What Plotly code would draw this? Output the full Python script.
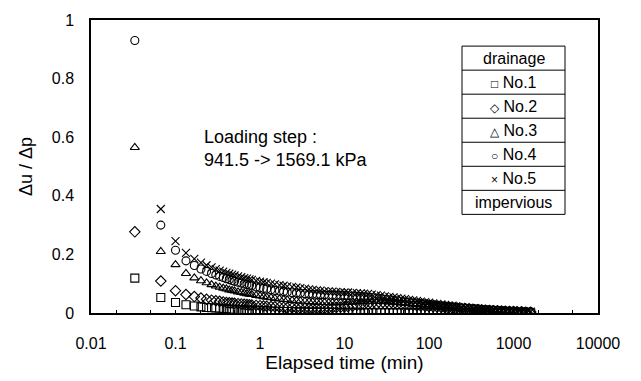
import plotly.graph_objects as go

# ---------------- data ----------------
time_min = [
    0.033, 0.067, 0.1, 0.133, 0.167, 0.2, 0.233, 0.267, 0.3, 0.333,
    0.367, 0.4, 0.433, 0.467, 0.5, 0.55, 0.6, 0.65, 0.7, 0.75,
    0.8, 0.9, 1.0, 1.1, 1.2, 1.35, 1.5, 1.7, 1.9, 2.1,
    2.4, 2.7, 3.0, 3.4, 3.8, 4.2, 4.7, 5.2, 5.8, 6.5,
    7.2, 8, 9, 10, 11, 12.5, 14, 15.5, 17, 19,
    21, 24, 27, 30, 34, 38, 42, 47, 52, 58,
    65, 72, 80, 90, 100, 112, 125, 140, 155, 170,
    190, 210, 240, 270, 300, 340, 380, 420, 470, 520,
    580, 650, 720, 800, 900, 1000, 1100, 1250, 1400, 1600,
]

no1 = [
    0.119, 0.053, 0.036, 0.028, 0.024, 0.021, 0.019, 0.018, 0.017, 0.016,
    0.015, 0.014, 0.013, 0.013, 0.012, 0.012, 0.011, 0.011, 0.010, 0.010,
    0.009, 0.009, 0.008, 0.008, 0.007, 0.007, 0.006, 0.006, 0.005, 0.005,
    0.005, 0.004, 0.004, 0.004, 0.003, 0.003, 0.003, 0.003, 0.002, 0.002,
    0.002, 0.002, 0.002, 0.002, 0.002, 0.002, 0.001, 0.001, 0.001, 0.001,
    0.001, 0.001, 0.001, 0.001, 0.001, 0.001, 0.001, 0.001, 0.001, 0.001,
    0.001, 0.001, 0.001, 0.001, 0.001, 0.001, 0.001, 0.001, 0.001, 0.001,
    0.001, 0.001, 0.001, 0.001, 0.001, 0.000, 0.000, 0.000, 0.000, 0.000,
    0.000, 0.000, 0.000, 0.000, 0.000, 0.000, 0.000, 0.000, 0.000, 0.000,
]
no2 = [
    0.277, 0.109, 0.076, 0.063, 0.056, 0.051, 0.047, 0.044, 0.042, 0.040,
    0.038, 0.036, 0.035, 0.034, 0.033, 0.032, 0.031, 0.030, 0.029, 0.028,
    0.027, 0.026, 0.025, 0.024, 0.023, 0.022, 0.021, 0.020, 0.019, 0.018,
    0.018, 0.017, 0.017, 0.016, 0.016, 0.016, 0.016, 0.016, 0.016, 0.017,
    0.018, 0.019, 0.020, 0.021, 0.022, 0.024, 0.026, 0.027, 0.028, 0.029,
    0.030, 0.030, 0.030, 0.030, 0.029, 0.029, 0.028, 0.028, 0.027, 0.026,
    0.026, 0.025, 0.024, 0.023, 0.022, 0.021, 0.020, 0.019, 0.018, 0.017,
    0.016, 0.015, 0.014, 0.013, 0.012, 0.011, 0.010, 0.009, 0.009, 0.008,
    0.007, 0.007, 0.006, 0.006, 0.005, 0.005, 0.004, 0.004, 0.003, 0.003,
]
no3 = [
    0.565, 0.210, 0.165, 0.135, 0.120, 0.110, 0.103, 0.097, 0.092, 0.088,
    0.085, 0.082, 0.079, 0.077, 0.075, 0.072, 0.070, 0.068, 0.066, 0.064,
    0.063, 0.060, 0.058, 0.056, 0.054, 0.052, 0.050, 0.048, 0.046, 0.045,
    0.043, 0.042, 0.041, 0.040, 0.039, 0.038, 0.037, 0.036, 0.036, 0.035,
    0.035, 0.035, 0.035, 0.035, 0.036, 0.037, 0.038, 0.039, 0.040, 0.040,
    0.040, 0.040, 0.039, 0.039, 0.038, 0.037, 0.036, 0.035, 0.034, 0.033,
    0.032, 0.031, 0.030, 0.029, 0.028, 0.027, 0.025, 0.024, 0.023, 0.022,
    0.021, 0.019, 0.018, 0.017, 0.016, 0.014, 0.013, 0.012, 0.011, 0.010,
    0.009, 0.009, 0.008, 0.007, 0.007, 0.006, 0.005, 0.005, 0.004, 0.004,
]
no4 = [
    0.930, 0.300, 0.214, 0.178, 0.162, 0.150, 0.142, 0.135, 0.130, 0.125,
    0.121, 0.117, 0.114, 0.111, 0.108, 0.105, 0.102, 0.099, 0.097, 0.095,
    0.093, 0.089, 0.086, 0.084, 0.082, 0.079, 0.077, 0.075, 0.073, 0.071,
    0.069, 0.068, 0.067, 0.066, 0.065, 0.064, 0.063, 0.062, 0.062, 0.061,
    0.061, 0.060, 0.060, 0.060, 0.059, 0.058, 0.057, 0.056, 0.055, 0.054,
    0.053, 0.051, 0.049, 0.047, 0.045, 0.043, 0.042, 0.040, 0.038, 0.037,
    0.035, 0.034, 0.032, 0.031, 0.029, 0.028, 0.026, 0.025, 0.024, 0.022,
    0.021, 0.020, 0.018, 0.017, 0.016, 0.015, 0.014, 0.013, 0.012, 0.011,
    0.010, 0.009, 0.009, 0.008, 0.007, 0.007, 0.006, 0.005, 0.005, 0.004,
]
no5 = [
    None, 0.355, 0.245, 0.205, 0.185, 0.172, 0.163, 0.156, 0.150, 0.145,
    0.141, 0.137, 0.134, 0.131, 0.128, 0.125, 0.122, 0.119, 0.117, 0.115,
    0.113, 0.110, 0.107, 0.105, 0.103, 0.100, 0.098, 0.095, 0.093, 0.091,
    0.089, 0.087, 0.085, 0.083, 0.081, 0.079, 0.077, 0.076, 0.075, 0.074,
    0.073, 0.072, 0.071, 0.070, 0.070, 0.069, 0.068, 0.067, 0.066, 0.065,
    0.063, 0.061, 0.059, 0.057, 0.055, 0.053, 0.051, 0.049, 0.047, 0.045,
    0.043, 0.041, 0.039, 0.037, 0.035, 0.033, 0.031, 0.029, 0.028, 0.026,
    0.025, 0.023, 0.021, 0.020, 0.018, 0.017, 0.016, 0.015, 0.014, 0.013,
    0.012, 0.011, 0.010, 0.009, 0.008, 0.008, 0.007, 0.006, 0.006, 0.005,
]

series_names = ["No.1", "No.2", "No.3", "No.4", "No.5"]
series_values = [no1, no2, no3, no4, no5]
series_symbols = ["square-open", "diamond-open", "triangle-up-open", "circle-open", "x-thin-open"]
legend_glyphs = ["\u25a1", "\u25c7", "\u25b3", "\u25cb", "\u00d7"]

x_tick_vals = [0.01, 0.1, 1, 10, 100, 1000, 10000]
x_tick_text = ["0.01", "0.1", "1", "10", "100", "1000", "10000"]
y_tick_vals = [0, 0.2, 0.4, 0.6, 0.8, 1.0]
y_tick_text = ["0", "0.2", "0.4", "0.6", "0.8", "1"]

annotation_lines = ["Loading step :", "941.5 -> 1569.1 kPa"]
legend_header = "drainage"
legend_footer = "impervious"

# ---------------- layout geometry (pixels) ----------------
W, H = 641, 381
L, R, T, B = 91, 43, 16, 62
PW, PH = W - L - R, H - T - B


def px(xp):
    return (xp - L) / PW


def py(yp):
    return (H - B - yp) / PH


FONT = "Liberation Sans, Arial, sans-serif"

fig = go.Figure()
for name, vals, sym in zip(series_names, series_values, series_symbols):
    fig.add_trace(go.Scatter(
        x=time_min, y=vals, mode="markers", name=name,
        marker=dict(symbol=sym, size=8, color="black",
                    line=dict(color="black", width=1.1)),
        showlegend=False,
    ))

# legend table
rows = [legend_header] + [
    f"<span style='font-size:12px'>{g}</span> {n}" for g, n in zip(legend_glyphs, series_names)
] + [legend_footer]
tx0, tx1, ty0, ty1 = 462, 565, 43, 217
rh = (ty1 - ty0) / len(rows)
shapes = [dict(type="rect", xref="paper", yref="paper",
               x0=px(tx0), x1=px(tx1), y0=py(ty1), y1=py(ty0),
               line=dict(color="black", width=1), fillcolor="white", layer="above")]
annotations = []
for i, txt in enumerate(rows):
    if i > 0:
        yl = ty0 + i * rh
        shapes.append(dict(type="line", xref="paper", yref="paper",
                           x0=px(tx0), x1=px(tx1), y0=py(yl), y1=py(yl),
                           line=dict(color="black", width=1), layer="above"))
    annotations.append(dict(xref="paper", yref="paper",
                            x=px((tx0 + tx1) / 2), y=py(ty0 + (i + 0.5) * rh),
                            text=txt, showarrow=False, xanchor="center", yanchor="middle",
                            font=dict(family=FONT, size=16, color="black")))

annotations.append(dict(xref="paper", yref="paper", x=px(202), y=py(149),
                        text="<br>".join(annotation_lines), showarrow=False,
                        xanchor="left", yanchor="middle", align="left",
                        font=dict(family=FONT, size=18, color="black")))

fig.update_layout(
    width=W, height=H,
    margin=dict(l=L, r=R, t=T, b=B, pad=0),
    paper_bgcolor="white", plot_bgcolor="white",
    font=dict(family=FONT, size=16, color="black"),
    shapes=shapes, annotations=annotations,
    xaxis=dict(type="log", range=[-2, 4], tickvals=x_tick_vals, ticktext=x_tick_text,
               showgrid=False, zeroline=False, showline=True, mirror=True,
               linecolor="black", linewidth=1.5, ticks="inside", ticklen=0,
               ticklabelstandoff=15,
               minor=dict(ticks="inside", ticklen=3, tickcolor="black", showgrid=False),
               title=dict(text="Elapsed time (min)", font=dict(size=19), standoff=4),
               tickfont=dict(size=16)),
    yaxis=dict(range=[0, 1], tickvals=y_tick_vals, ticktext=y_tick_text,
               showgrid=False, zeroline=False, showline=True, mirror=True,
               linecolor="black", linewidth=1.5, ticks="", ticklabelstandoff=12,
               title=dict(text="\u0394u / \u0394p", font=dict(size=18), standoff=14),
               tickfont=dict(size=16)),
)

fig.write_html("out.html")
